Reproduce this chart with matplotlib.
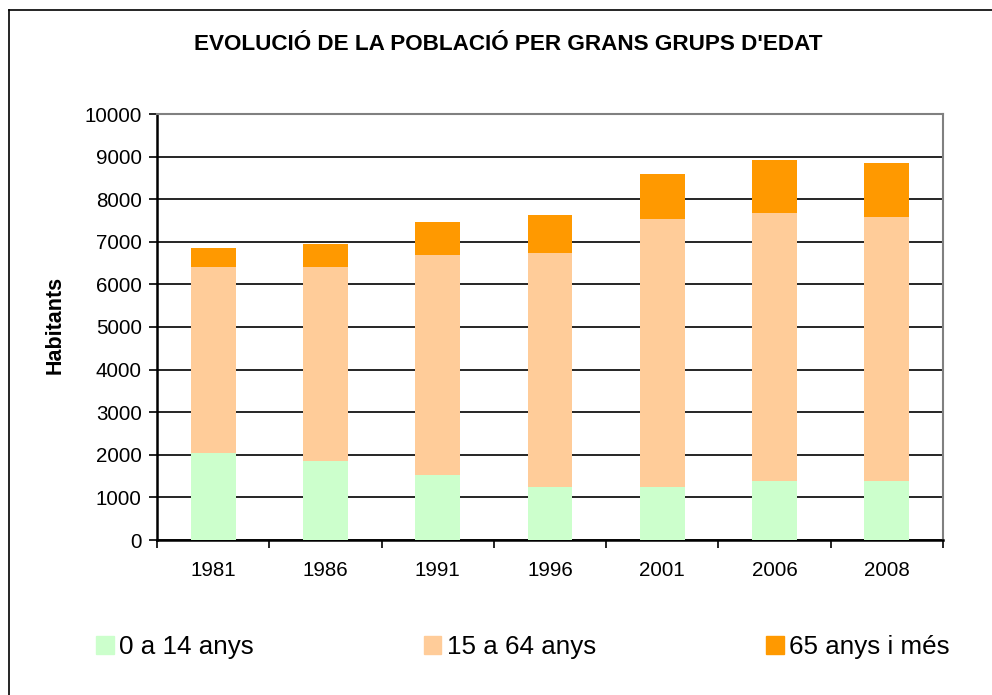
import matplotlib
matplotlib.use('Agg')
import matplotlib.pyplot as plt
import numpy as np
from matplotlib.lines import Line2D
from matplotlib.patches import Patch

plt.rcParams['font.family'] = ['Liberation Sans', 'DejaVu Sans']

anys = ['1981', '1986', '1991', '1996', '2001', '2006', '2008']
joves = [2045, 1857, 1528, 1246, 1243, 1384, 1384]      # 0 a 14 anys
adults = [4373, 4561, 5172, 5502, 6286, 6286, 6192]     # 15 a 64 anys
grans = [447, 541, 770, 875, 1056, 1243, 1267]          # 65 anys i mes

colors = ['#CCFFCC', '#FFCC99', '#FF9900']
noms = ['0 a 14 anys', '15 a 64 anys', '65 anys i més']

fig = plt.figure(figsize=(9.92, 6.95), dpi=100)
ax = fig.add_axes([157/992, 1-540/695, (943-157)/992, (540-114)/695])

x = np.arange(len(anys))
w = 0.4
ax.bar(x, joves, w, color=colors[0], zorder=3)
ax.bar(x, adults, w, bottom=joves, color=colors[1], zorder=3)
base = np.array(joves) + np.array(adults)
ax.bar(x, grans, w, bottom=base, color=colors[2], zorder=3)

ax.set_xlim(-0.5, len(anys) - 0.5)
ax.set_ylim(0, 10000)
ax.set_yticks(np.arange(0, 10001, 1000))
ax.yaxis.grid(True, color='black', linewidth=1.2, zorder=0)
ax.set_axisbelow(True)

ax.set_xticks(x)
ax.set_xticklabels(anys)
ax.set_xticks(np.arange(-0.5, len(anys), 1), minor=True)
ax.tick_params(axis='x', which='major', length=0, pad=15, labelsize=14.8)
ax.tick_params(axis='x', which='minor', length=6, width=1.2, direction='out')
ax.tick_params(axis='y', length=6, width=1.2, direction='out', labelsize=14.8, pad=5)

for s in ['top', 'right']:
    ax.spines[s].set_color('#808080')
    ax.spines[s].set_linewidth(1.5)
for s in ['left', 'bottom']:
    ax.spines[s].set_color('black')
    ax.spines[s].set_linewidth(1.8)

fig.text(55/992, 1-325/695, 'Habitants', rotation=90, fontsize=15.5,
         fontweight='bold', ha='center', va='center')

fig.text(508/992, 1-45/695, "EVOLUCIÓ DE LA POBLACIÓ PER GRANS GRUPS D'EDAT",
         fontsize=16.2, fontweight='bold', ha='center', va='center')

# marc exterior
fig.add_artist(Line2D([9/992, 9/992], [0, 1-10/695], color='black', linewidth=1.2))
fig.add_artist(Line2D([9/992, 1], [1-10/695, 1-10/695], color='black', linewidth=1.2))

handles = [Patch(color=c) for c in colors]
fig.legend(handles, noms, ncol=3, loc='center left',
           bbox_to_anchor=(96/992, 1-647/695), frameon=False,
           fontsize=18.7, handlelength=0.68, handleheight=0.68,
           handletextpad=0.2, columnspacing=6.55, borderpad=0, borderaxespad=0)

fig.savefig('out.png', dpi=100)
